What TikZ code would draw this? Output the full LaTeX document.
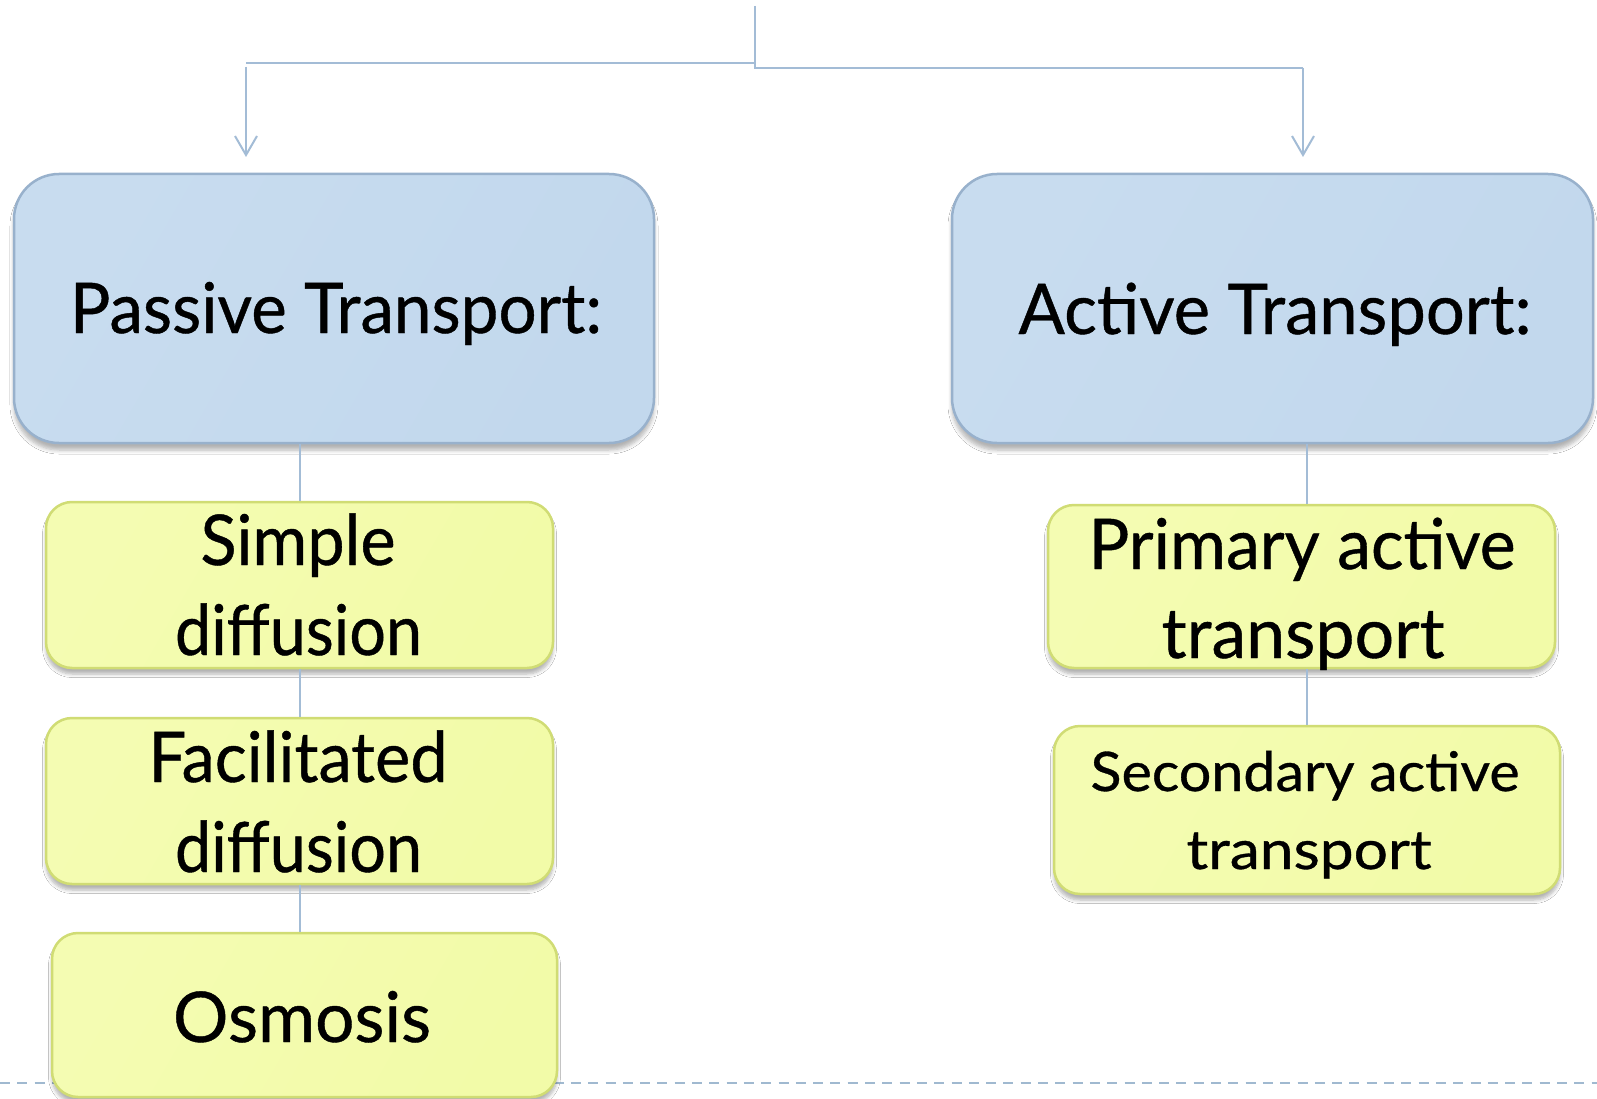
\documentclass[tikz,border=0pt]{standalone}
\usepackage{fontspec}
\setmainfont{Lato}[FakeBold=0.6]
\usetikzlibrary{arrows.meta,shadows.blur}
\definecolor{connc}{HTML}{A3BCD6}
\definecolor{dashc}{HTML}{A0B9D0}
\definecolor{blueA}{HTML}{C8DCEF}
\definecolor{blueB}{HTML}{B5D0E9}
\definecolor{blueC}{HTML}{C2D8ED}
\definecolor{blueBorder}{HTML}{98B1CC}
\definecolor{yelA}{HTML}{F4FCB2}
\definecolor{yelB}{HTML}{EFFA8E}
\definecolor{yelC}{HTML}{F2FBA8}
\definecolor{yelBorder}{HTML}{D0DC74}
\newcommand\fitw[2]{\resizebox{#1}{\height}{#2}}
\begin{document}
\begin{tikzpicture}[x=1pt,y=-1pt,
  conn/.style={draw=connc,line width=2pt},
  arrowconn/.style={conn,-{Straight Barb[length=19pt,width=22pt,line width=2pt]}},
  bigbox/.style={draw=blueBorder,line width=2.5pt,rounded corners=45pt,
    left color=blueA,middle color=blueB,right color=blueC,shading angle=60,
    blur shadow={shadow xshift=0pt,shadow yshift=-7pt,shadow blur radius=4pt,shadow blur steps=6,shadow opacity=30},
    inner sep=0pt},
  smallbox/.style={draw=yelBorder,line width=2.5pt,rounded corners=26pt,
    left color=yelA,middle color=yelB,right color=yelC,shading angle=60,
    blur shadow={shadow xshift=0pt,shadow yshift=-6pt,shadow blur radius=3.5pt,shadow blur steps=6,shadow opacity=30},
    inner sep=0pt,minimum width=507pt},
  lbl/.style={anchor=base,inner sep=0pt,text=black,font=\fontsize{70}{84}\selectfont},
  lblsmall/.style={anchor=base,inner sep=0pt,text=black,font=\fontsize{54.5}{66}\selectfont}
]
\useasboundingbox (0,0) rectangle (1597,1099);
\fill[white] (0,0) rectangle (1597,1099);

% dashed baseline
\coordinate (dl) at (0,1083);
\coordinate (dr) at (1597,1083);
\draw[draw=dashc,line width=2.7pt,dash pattern=on 10pt off 7.3pt] (dl) -- (dr);

% boxes
\node[bigbox,minimum width=640pt,minimum height=269pt] (passive) at (334,308.5) {};
\node[bigbox,minimum width=641pt,minimum height=269pt] (active) at (1272.5,308.5) {};
\node[smallbox,minimum height=166pt] (simple) at (299.5,585) {};
\node[smallbox,minimum height=166pt] (facil) at (299.5,801) {};
\node[smallbox,minimum width=505pt,minimum height=164pt] (osmosis) at (304.5,1015) {};
\node[smallbox,minimum height=163pt] (primary) at (1301.5,586.5) {};
\node[smallbox,minimum width=506pt,minimum height=168pt] (secondary) at (1307,810) {};

% top connectors
\coordinate (top) at (755,6);
\coordinate (jl) at (755,63);
\coordinate (jr) at (755,68);
\coordinate (lcorner) at (246,63);
\coordinate (lstart) at (246,67);
\coordinate (ltip) at (246,157);
\coordinate (rcorner) at (1303,68);
\coordinate (rtip) at (1303,157);
\draw[conn] (top) -- (jr) -- (rcorner);
\draw[conn] (jl) -- (lcorner);
\draw[arrowconn] (lstart) -- (ltip);
\draw[arrowconn] (rcorner) -- (rtip);

% tree connectors
\draw[conn] (simple.north |- passive.south) -- (simple.north);
\draw[conn] (simple.south) -- (simple.south |- facil.north);
\draw[conn] (simple.south |- facil.south) -- (simple.south |- osmosis.north);
\draw[conn] (secondary.north |- active.south) -- (secondary.north |- primary.north);
\draw[conn] (secondary.north |- primary.south) -- (secondary.north);

% labels
\node[lbl] (tpassive) at (336,333) {\fitw{532pt}{Passive Transport:}};
\node[lbl] (tactive) at (1275,334) {\fitw{513pt}{Active Transport:}};
\node[lbl] (tsimple1) at (298,565) {\fitw{195pt}{Simple}};
\node[lbl] (tsimple2) at (298.5,655) {\fitw{247pt}{diffusion}};
\node[lbl] (tfacil1) at (298,782) {\fitw{299pt}{Facilitated}};
\node[lbl] (tfacil2) at (298.5,872) {\fitw{247pt}{diffusion}};
\node[lbl] (tosmosis) at (302,1042) {\fitw{258pt}{Osmosis}};
\node[lbl] (tprimary1) at (1302,569) {\fitw{427pt}{Primary active}};
\node[lbl] (tprimary2) at (1303,658) {\fitw{283pt}{transport}};
\node[lblsmall] (tsec1) at (1305,791) {\fitw{429pt}{Secondary active}};
\node[lblsmall] (tsec2) at (1309,869) {\fitw{245pt}{transport}};
\end{tikzpicture}
\end{document}
